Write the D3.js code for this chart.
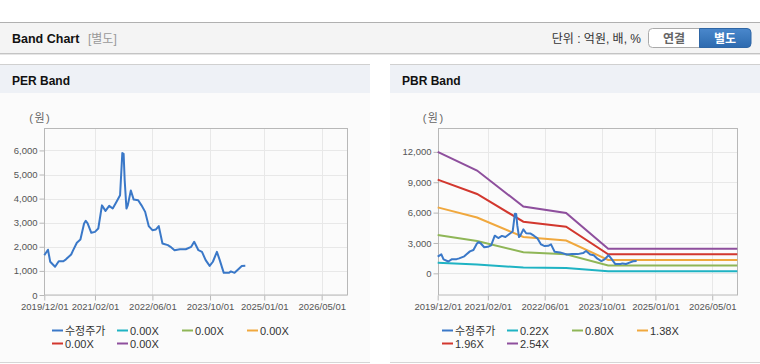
<!DOCTYPE html>
<html>
<head>
<meta charset="utf-8">
<script src="https://cdn.jsdelivr.net/npm/d3@7"></script>
<style>
  body { margin: 0; background: #fff; }
  svg { display: block; font-family: "Liberation Sans", Arial, "Noto Sans CJK KR", sans-serif; }
</style>
</head>
<body>
<script>
// 수정주가 (원)
var priceDates = [
  '2019/12/01', '2020/01/01', '2020/01/20', '2020/03/01', '2020/04/01', '2020/05/10',
  '2020/06/01', '2020/07/15', '2020/08/01', '2020/09/01', '2020/10/01', '2020/11/01',
  '2020/11/15', '2020/12/01', '2021/01/01', '2021/02/01', '2021/03/01', '2021/04/01',
  '2021/05/01', '2021/06/01', '2021/07/01', '2021/08/01', '2021/09/01', '2021/09/20',
  '2021/10/01', '2021/10/10', '2021/10/25', '2021/11/05', '2021/12/01', '2021/12/25',
  '2022/02/01', '2022/03/01', '2022/04/01', '2022/05/01', '2022/06/01', '2022/07/01',
  '2022/07/25', '2022/08/25', '2022/10/10', '2022/11/01', '2022/12/05', '2023/01/20',
  '2023/03/10', '2023/04/25', '2023/05/20', '2023/06/25', '2023/07/25', '2023/08/25',
  '2023/09/28', '2023/10/25', '2023/11/28', '2023/12/20', '2024/01/25', '2024/03/10',
  '2024/03/25', '2024/04/25', '2024/05/25', '2024/06/25', '2024/07/25'
];
var priceValues = [
  1650, 1880, 1380, 1170, 1400, 1400,
  1480, 1680, 1860, 2170, 2300, 2970,
  3080, 2970, 2580, 2620, 2760, 3720,
  3490, 3700, 3590, 3860, 4140, 5890,
  5860, 4760, 3590, 3720, 4340, 3960,
  3930, 3720, 3450, 2860, 2690, 2720,
  2860, 2140, 2070, 2000, 1860, 1900,
  1900, 2000, 2210, 1860, 1790, 1450,
  1210, 1380, 1790, 1480, 920, 920,
  980, 920, 1060, 1200, 1210
];

// PBR 밴드
var bandDates = ['2019/12/01', '2020/11/01', '2021/12/01', '2022/12/01', '2023/11/25', '2026/12/01'];
var pbr022 = [1040, 880, 572, 517, 211, 211];
var pbr080 = [3780, 3200, 2080, 1880, 768, 768];
var pbr138 = [6520, 5520, 3590, 3240, 1325, 1325];
var pbr196 = [9260, 7840, 5100, 4610, 1880, 1880];
var pbr254 = [12000, 10160, 6600, 5970, 2440, 2440];

var perLabels = ['수정주가', '0.00X', '0.00X', '0.00X', '0.00X', '0.00X'];
var pbrLabels = ['수정주가', '0.22X', '0.80X', '1.38X', '1.96X', '2.54X'];
var seriesColors = ['#3a78c8', '#1fb3c3', '#8fb657', '#f0a83e', '#d2372e', '#8e4f9d'];

var xTickLabels = ['2019/12/01', '2021/02/01', '2022/06/01', '2023/10/01', '2025/01/01', '2026/05/01'];
var perYTicks = [0, 1000, 2000, 3000, 4000, 5000, 6000];
var pbrYTicks = [0, 3000, 6000, 9000, 12000];

var parse = d3.timeParse('%Y/%m/%d');

var svg = d3.select('body').append('svg')
  .attr('width', 760)
  .attr('height', 364);

// 상단 헤더
svg.append('line').attr('x1', 0).attr('x2', 760).attr('y1', 22.5).attr('y2', 22.5)
  .attr('stroke', '#b0b0b0');
svg.append('rect').attr('x', 0).attr('y', 23).attr('width', 760).attr('height', 30)
  .attr('fill', '#f4f4f4');
svg.append('line').attr('x1', 0).attr('x2', 760).attr('y1', 53.5).attr('y2', 53.5)
  .attr('stroke', '#c4c4c4');
svg.append('line').attr('x1', 0).attr('x2', 760).attr('y1', 54.5).attr('y2', 54.5)
  .attr('stroke', '#e6e6e6');

svg.append('text').attr('x', 12).attr('y', 42.5)
  .attr('font-size', '12.5px').attr('font-weight', 'bold').attr('fill', '#111')
  .text('Band Chart');
svg.append('text').attr('x', 88).attr('y', 42.5)
  .attr('font-size', '12px').attr('fill', '#999')
  .text('[별도]');
svg.append('text').attr('x', 641).attr('y', 42.5).attr('text-anchor', 'end')
  .attr('font-size', '12px').attr('fill', '#333')
  .text('단위 : 억원, 배, %');

// 연결 / 별도 버튼
svg.append('rect').attr('x', 648.5).attr('y', 28.5).attr('width', 56).attr('height', 19)
  .attr('rx', 4).attr('fill', '#fff').attr('stroke', '#aaa');
var grad = svg.append('defs').append('linearGradient').attr('id', 'btnBlue')
  .attr('x1', 0).attr('y1', 0).attr('x2', 0).attr('y2', 1);
grad.append('stop').attr('offset', '0%').attr('stop-color', '#4a88cc');
grad.append('stop').attr('offset', '100%').attr('stop-color', '#2d6aaf');
svg.append('path')
  .attr('d', 'M699.5,28.5 H747 a4,4 0 0 1 4,4 V43.5 a4,4 0 0 1 -4,4 H699.5 Z')
  .attr('fill', 'url(#btnBlue)').attr('stroke', '#2f66a5');
svg.append('text').attr('x', 674).attr('y', 42.5).attr('text-anchor', 'middle')
  .attr('font-size', '12px').attr('font-weight', 'bold').attr('fill', '#666')
  .text('연결');
svg.append('text').attr('x', 725).attr('y', 42.5).attr('text-anchor', 'middle')
  .attr('font-size', '12px').attr('font-weight', 'bold').attr('fill', '#fff')
  .text('별도');

function drawPanel(p) {
  var g = svg.append('g');

  // 패널 배경
  g.append('rect').attr('x', p.px).attr('y', 64).attr('width', p.pw).attr('height', 299)
    .attr('fill', '#fbfbfb');
  g.append('rect').attr('x', p.px).attr('y', 64).attr('width', p.pw).attr('height', 29)
    .attr('fill', '#eef1f6');
  g.append('line').attr('x1', p.px).attr('x2', p.px + p.pw).attr('y1', 64.5).attr('y2', 64.5)
    .attr('stroke', '#d0d0d0');
  g.append('line').attr('x1', p.px).attr('x2', p.px + p.pw).attr('y1', 362.5).attr('y2', 362.5)
    .attr('stroke', '#d6d6d6');
  g.append('text').attr('x', p.px + 12).attr('y', 84.5)
    .attr('font-size', '12px').attr('font-weight', 'bold').attr('fill', '#111')
    .text(p.title);

  var x = d3.scaleTime()
    .domain([parse('2019/12/01'), parse('2026/12/01')])
    .range([p.left, p.right]);
  var y = d3.scaleLinear()
    .domain(p.yDomain)
    .range([295, 128.5]);

  // 그리드
  g.append('g').selectAll('line').data(p.yTicks).enter().append('line')
    .attr('x1', p.left).attr('x2', p.right)
    .attr('y1', function(d) { return Math.round(y(d)) + 0.5; })
    .attr('y2', function(d) { return Math.round(y(d)) + 0.5; })
    .attr('stroke', '#e8e8e8');
  g.append('g').selectAll('line').data(xTickLabels).enter().append('line')
    .attr('x1', function(d) { return Math.round(x(parse(d))) + 0.5; })
    .attr('x2', function(d) { return Math.round(x(parse(d))) + 0.5; })
    .attr('y1', 128.5).attr('y2', 295)
    .attr('stroke', '#e8e8e8');

  // 테두리
  g.append('rect')
    .attr('x', Math.round(p.left) + 0.5).attr('y', 128.5)
    .attr('width', Math.round(p.right) - Math.round(p.left)).attr('height', 166.5)
    .attr('fill', 'none').attr('stroke', '#b8b8b8');

  // 축
  var xAxis = d3.axisBottom(x)
    .tickValues(xTickLabels.map(parse))
    .tickFormat(d3.timeFormat('%Y/%m/%d'))
    .tickSize(5).tickPadding(3);
  var ax = g.append('g').attr('transform', 'translate(0,295.5)').call(xAxis);
  ax.select('.domain').remove();
  ax.selectAll('line').attr('stroke', '#b8b8b8');
  ax.selectAll('text').attr('font-size', '9.5px').attr('fill', '#555')
    .attr('font-family', null);

  var yAxis = d3.axisLeft(y)
    .tickValues(p.yTicks)
    .tickFormat(d3.format(','))
    .tickSize(5).tickPadding(2);
  var ay = g.append('g').attr('transform', 'translate(' + (Math.round(p.left) + 0.5) + ',0)').call(yAxis);
  ay.select('.domain').remove();
  ay.selectAll('line').attr('stroke', '#b8b8b8');
  ay.selectAll('text').attr('font-size', '9.5px').attr('fill', '#555')
    .attr('font-family', null);

  g.append('text').attr('x', p.left - 15).attr('y', 122)
    .attr('font-size', '11px').attr('fill', '#666')
    .attr('letter-spacing', '1.5px')
    .text('(원)');

  var line = d3.line()
    .x(function(d) { return x(d.date); })
    .y(function(d) { return y(d.value); });

  p.bands.forEach(function(vals, i) {
    if (!vals) return;
    var data = bandDates.map(function(d, j) { return { date: parse(d), value: vals[j] }; });
    g.append('path').datum(data)
      .attr('d', line)
      .attr('fill', 'none')
      .attr('stroke', seriesColors[i + 1])
      .attr('stroke-width', 2);
  });

  var priceData = priceDates.map(function(d, i) { return { date: parse(d), value: priceValues[i] }; });
  g.append('path').datum(priceData)
    .attr('d', line)
    .attr('fill', 'none')
    .attr('stroke', seriesColors[0])
    .attr('stroke-width', 2)
    .attr('stroke-linejoin', 'round');

  // 범례
  var legend = g.append('g').selectAll('g').data(p.labels).enter().append('g')
    .attr('transform', function(d, i) {
      return 'translate(' + (p.legendX + (i % 4) * 65) + ',' + (330.5 + Math.floor(i / 4) * 13) + ')';
    });
  legend.append('line')
    .attr('x1', 0).attr('x2', 11).attr('y1', 0).attr('y2', 0)
    .attr('stroke', function(d, i) { return seriesColors[i]; })
    .attr('stroke-width', 2);
  legend.append('text')
    .attr('x', 13).attr('y', 4)
    .attr('font-size', '11px').attr('fill', '#333')
    .text(function(d) { return d; });
}

drawPanel({
  title: 'PER Band', px: 0, pw: 370,
  left: 44.3, right: 347, yDomain: [0, 6910], yTicks: perYTicks,
  bands: [null, null, null, null, null],
  labels: perLabels, legendX: 52
});

drawPanel({
  title: 'PBR Band', px: 390, pw: 370,
  left: 437.7, right: 737.3, yDomain: [-2140, 14310], yTicks: pbrYTicks,
  bands: [pbr022, pbr080, pbr138, pbr196, pbr254],
  labels: pbrLabels, legendX: 442
});
</script>
</body>
</html>
